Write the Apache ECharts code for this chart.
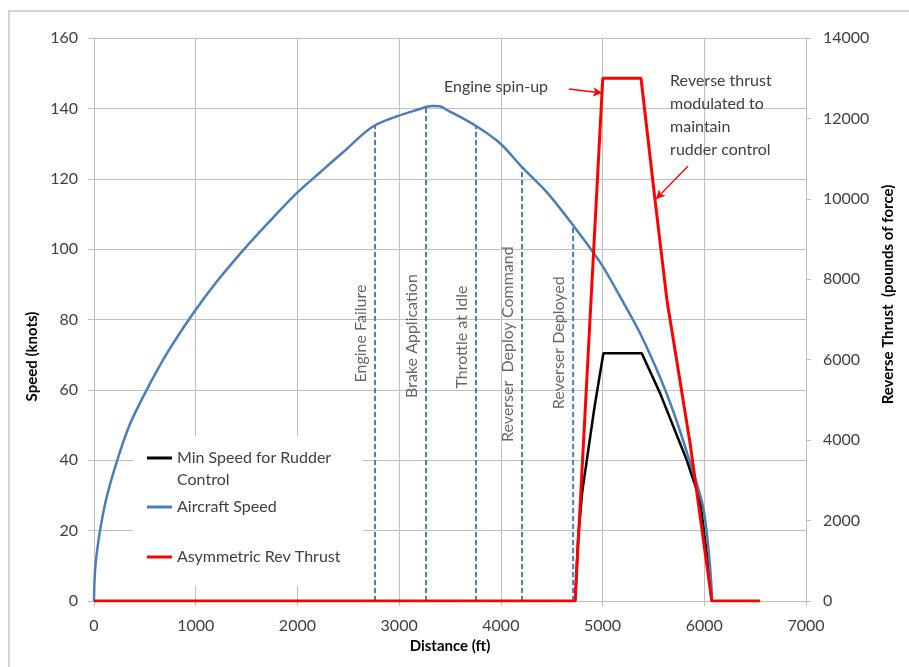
<!DOCTYPE html>
<html>
<head>
<meta charset="utf-8">
<script src="https://cdn.jsdelivr.net/npm/echarts@6/dist/echarts.min.js"></script>
<style>
  html, body { margin: 0; padding: 0; background: #ffffff; }
  #chart { width: 909px; height: 667px; }
</style>
</head>
<body>
<div id="chart"></div>
<script>
// Aircraft speed along the runway (ft -> knots)
var speedDist = [0, 3, 10, 25, 59, 120, 223, 350, 518, 730, 976, 1200, 1468, 1730, 1993, 2230, 2451, 2763, 3264, 3330, 3400, 3468, 3756, 3992, 4208, 4451, 4710, 4975, 5192, 5369, 5565, 5700, 5831, 5988, 6057, 6077];
var speedKts  = [0, 4, 8.5, 13, 20, 29, 39.5, 50, 60, 71, 81.8, 90.5, 99.7, 108, 115.9, 122, 127.6, 135.2, 140.4, 140.7, 140.6, 139.6, 135, 130.1, 123.3, 116.2, 106.8, 96.3, 85.5, 76.1, 63.6, 53.5, 42, 26.7, 9.7, 0];

// Minimum speed for rudder control (ft -> knots)
var minDist = [4730, 4760, 4800, 4845, 4920, 5008, 5385, 5566, 5828, 5959, 6040, 6074];
var minKts  = [0, 18, 31, 40, 55, 70.4, 70.4, 59, 40, 28.7, 9.7, 0];

// Asymmetric reverse thrust (ft -> lbf)
var thrustDist = [0, 4730, 5002, 5378, 5516, 5633, 5860, 6074, 6550];
var thrustLbf  = [0, 0, 13000, 13000, 9970, 7480, 3930, 0, 0];

// Event markers: distance, speed on the curve, label height (knots)
var eventNames = ['Engine Failure', 'Brake Application', 'Throttle at Idle', 'Reverser  Deploy Command', 'Reverser Deployed'];
var eventDist  = [2763, 3264, 3756, 4208, 4710];
var eventSpeed = [135.2, 140.4, 135, 123.3, 106.8];
var eventLabelAt = [76, 75.3, 75, 73, 73.4];

// Axis ticks
var xTicks = { min: 0, max: 7000, step: 1000 };
var speedTicks = { min: 0, max: 160, step: 20 };
var thrustTicks = { min: 0, max: 14000, step: 2000 };

// Callouts in (distance, thrust) space
var spinUpText = 'Engine spin-up';
var spinUpAnchor = [4464, 12781];
var spinUpArrow = [[4671, 12732], [4995, 12632]];
var modulatedText = 'Reverse thrust\nmodulated to\nmaintain\nrudder control';
var modulatedAnchor = [5664, 13229];
var modulatedArrow = [[5841, 10817], [5526, 9996]];

var FONT = 'Lato';
var TXT = '#404040';
var GRID = '#bfbfbf';
var BLUE = '#4a7ebb';
var RED = '#ff0000';

function zip(a, b) { return a.map(function (v, i) { return [v, b[i]]; }); }
function plain(v) { return String(v); }

var series = [];

// dashed event lines
eventDist.forEach(function (d, i) {
  series.push({
    name: 'evt' + i,
    type: 'line',
    yAxisIndex: 0,
    data: [[d, 0], [d, eventSpeed[i]]],
    symbol: 'none',
    silent: true,
    z: 3,
    lineStyle: { color: BLUE, width: 2, type: [5, 3] }
  });
});

// event labels
series.push({
  name: 'eventLabels',
  type: 'scatter',
  yAxisIndex: 0,
  symbolSize: 0,
  silent: true,
  z: 4,
  data: eventDist.map(function (d, i) {
    return { value: [d, eventLabelAt[i]], name: eventNames[i] };
  }),
  label: {
    show: true,
    formatter: '{b}',
    rotate: 90,
    position: [-14, 0],
    align: 'center',
    verticalAlign: 'middle',
    fontFamily: FONT,
    fontSize: 16,
    color: TXT
  }
});

series.push({
  name: 'Min Speed for Rudder Control',
  type: 'line',
  yAxisIndex: 0,
  data: zip(minDist, minKts),
  symbol: 'none',
  z: 5,
  lineStyle: { color: '#000000', width: 2.5 },
  itemStyle: { color: '#000000' }
});

series.push({
  name: 'Aircraft Speed',
  type: 'line',
  yAxisIndex: 0,
  data: zip(speedDist, speedKts),
  symbol: 'none',
  smooth: 0.3,
  z: 6,
  lineStyle: { color: BLUE, width: 2.5 },
  itemStyle: { color: BLUE }
});

series.push({
  name: 'Asymmetric Rev Thrust',
  type: 'line',
  yAxisIndex: 1,
  data: zip(thrustDist, thrustLbf),
  symbol: 'none',
  z: 7,
  lineStyle: { color: RED, width: 3 },
  itemStyle: { color: RED },
  markLine: {
    silent: true,
    symbol: ['none', 'arrow'],
    symbolSize: [7, 9],
    label: { show: false },
    lineStyle: { color: RED, width: 1.3, type: 'solid' },
    data: [
      [{ coord: spinUpArrow[0] }, { coord: spinUpArrow[1] }],
      [{ coord: modulatedArrow[0] }, { coord: modulatedArrow[1] }]
    ]
  },
  markPoint: {
    silent: true,
    symbol: 'circle',
    symbolSize: 0,
    data: [
      {
        coord: spinUpAnchor,
        label: {
          show: true, formatter: spinUpText, position: [0, 0],
          align: 'right', verticalAlign: 'middle',
          fontFamily: FONT, fontSize: 16, color: TXT
        }
      },
      {
        coord: modulatedAnchor,
        label: {
          show: true, formatter: modulatedText, position: [0, 0],
          align: 'left', verticalAlign: 'top', lineHeight: 23,
          fontFamily: FONT, fontSize: 16, color: TXT
        }
      }
    ]
  }
});

// one legend block per entry; the first entry wraps onto a second line
function legendFor(name, top, label) {
  return {
    data: [name],
    orient: 'vertical',
    left: 147,
    top: top,
    padding: 0,
    icon: 'rect',
    itemWidth: 25,
    itemHeight: 3,
    selectedMode: false,
    formatter: function () { return label; },
    textStyle: { fontFamily: FONT, fontSize: 16, color: TXT, lineHeight: 22 }
  };
}

var option = {
  animation: false,
  backgroundColor: '#ffffff',
  textStyle: { fontFamily: FONT },
  grid: { left: 94, right: 103, top: 38, bottom: 66, containLabel: false },
  graphic: [
    {
      type: 'rect', z: -10,
      shape: { x: 9, y: 11, width: 1000, height: 800 },
      style: { fill: null, stroke: '#d4d4d4', lineWidth: 2 }
    },
    {
      type: 'rect', z: 1,
      shape: { x: 133, y: 436, width: 230, height: 150 },
      style: { fill: '#ffffff', stroke: null }
    }
  ],
  legend: [
    legendFor('Min Speed for Rudder Control', 425, '\nMin Speed for Rudder\nControl'),
    legendFor('Aircraft Speed', 496, 'Aircraft Speed'),
    legendFor('Asymmetric Rev Thrust', 546, 'Asymmetric Rev Thrust')
  ],
  xAxis: {
    type: 'value',
    min: xTicks.min, max: xTicks.max, interval: xTicks.step,
    name: 'Distance (ft)',
    nameLocation: 'middle',
    nameGap: 35,
    nameTextStyle: { fontFamily: FONT, fontSize: 15, fontWeight: 'bold', color: '#000000' },
    axisLine: { show: true, lineStyle: { color: GRID } },
    axisTick: { show: true, inside: false, length: 5, lineStyle: { color: GRID } },
    axisLabel: { margin: 17, fontFamily: FONT, fontSize: 16, color: TXT, formatter: plain },
    splitLine: { show: true, lineStyle: { color: GRID, width: 1 } }
  },
  yAxis: [
    {
      type: 'value', position: 'left',
      min: speedTicks.min, max: speedTicks.max, interval: speedTicks.step,
      name: 'Speed (knots)',
      nameLocation: 'middle',
      nameRotate: 90,
      nameGap: 52,
      nameTextStyle: { fontFamily: FONT, fontSize: 15, fontWeight: 'bold', color: '#000000', padding: [0, 74, 0, 0] },
      axisLine: { show: true, lineStyle: { color: GRID } },
      axisTick: { show: true, inside: false, length: 6, lineStyle: { color: GRID } },
      axisLabel: { margin: 16, fontFamily: FONT, fontSize: 16, color: TXT, formatter: plain },
      splitLine: { show: true, lineStyle: { color: GRID, width: 1 } }
    },
    {
      type: 'value', position: 'right',
      min: thrustTicks.min, max: thrustTicks.max, interval: thrustTicks.step,
      name: 'Reverse Thrust  (pounds of force)',
      nameLocation: 'middle',
      nameRotate: 90,
      nameGap: 70,
      nameTextStyle: { fontFamily: FONT, fontSize: 15, fontWeight: 'bold', color: '#000000', padding: [0, 0, 0, 50] },
      axisLine: { show: true, lineStyle: { color: GRID } },
      axisTick: { show: true, inside: false, length: 5, lineStyle: { color: GRID } },
      axisLabel: { margin: 17, fontFamily: FONT, fontSize: 16, color: TXT, formatter: plain },
      splitLine: { show: false }
    }
  ],
  series: series
};

var chart = echarts.init(document.getElementById('chart'), null, { renderer: 'canvas' });
chart.setOption(option);
</script>
</body>
</html>
